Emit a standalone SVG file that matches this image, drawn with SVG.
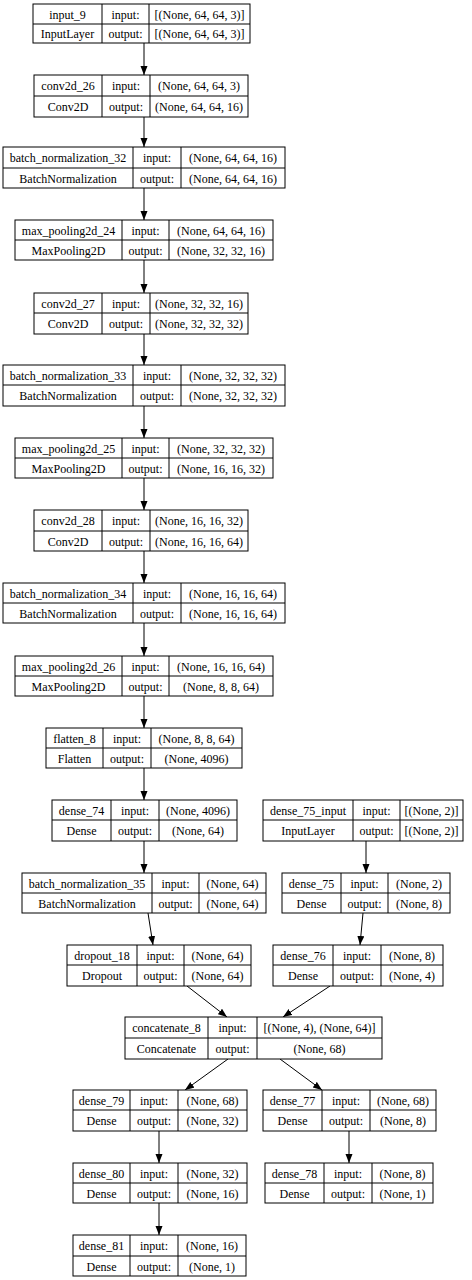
<svg xmlns="http://www.w3.org/2000/svg" width="472" height="1280" viewBox="0 0 472 1280">
<style>
.node rect{fill:#fff;stroke:#000;stroke-width:1}
.node line{stroke:#000;stroke-width:1}
text{font-family:"Liberation Serif","Times New Roman",serif;font-size:12px;text-anchor:middle;fill:#000}
.edges line{stroke:#000;stroke-width:1;marker-end:url(#ah)}
</style>
<defs>
<marker id="ah" markerUnits="userSpaceOnUse" markerWidth="10" markerHeight="8" refX="9" refY="3.5" orient="auto">
<path d="M0,0 L9,3.5 L0,7 Z" fill="#000"/>
</marker>
</defs>
<rect x="0" y="0" width="472" height="1280" fill="#fff"/>
<g id="edges" class="edges">
<line x1="144" y1="43" x2="144" y2="75"/>
<line x1="144" y1="117" x2="144" y2="147"/>
<line x1="144" y1="188" x2="144" y2="220"/>
<line x1="144" y1="260" x2="144" y2="293"/>
<line x1="144" y1="334" x2="144" y2="365"/>
<line x1="144" y1="406" x2="144" y2="438"/>
<line x1="144" y1="478" x2="144" y2="510"/>
<line x1="144" y1="551" x2="144" y2="583"/>
<line x1="144" y1="623" x2="144" y2="656"/>
<line x1="144" y1="696" x2="144" y2="728"/>
<line x1="144" y1="768" x2="144" y2="800"/>
<line x1="144" y1="841" x2="144" y2="873"/>
<line x1="148" y1="913" x2="153" y2="945"/>
<line x1="366" y1="841" x2="366" y2="873"/>
<line x1="363" y1="913" x2="360" y2="945"/>
<line x1="187" y1="986" x2="227" y2="1017"/>
<line x1="330" y1="986" x2="283" y2="1017"/>
<line x1="228" y1="1059" x2="185" y2="1090"/>
<line x1="280" y1="1059" x2="322" y2="1090"/>
<line x1="159" y1="1131" x2="159" y2="1163"/>
<line x1="349" y1="1131" x2="349" y2="1163"/>
<line x1="159" y1="1203" x2="159" y2="1235"/>
</g>
<g id="input_9" class="node"><rect x="33" y="4" width="217" height="39"/><line x1="33" y1="24" x2="250" y2="24"/><line x1="102" y1="4" x2="102" y2="43"/><line x1="149" y1="4" x2="149" y2="43"/>
<text x="67.5" y="18.5">input_9</text><text x="125.5" y="18.5">input:</text><text x="199.5" y="18.5">[(None, 64, 64, 3)]</text>
<text x="67.5" y="38">InputLayer</text><text x="125.5" y="38">output:</text><text x="199.5" y="38">[(None, 64, 64, 3)]</text></g>
<g id="conv2d_26" class="node"><rect x="34" y="75" width="214" height="42"/><line x1="34" y1="96" x2="248" y2="96"/><line x1="102" y1="75" x2="102" y2="117"/><line x1="150" y1="75" x2="150" y2="117"/>
<text x="68" y="90">conv2d_26</text><text x="126" y="90">input:</text><text x="199" y="90">(None, 64, 64, 3)</text>
<text x="68" y="111">Conv2D</text><text x="126" y="111">output:</text><text x="199" y="111">(None, 64, 64, 16)</text></g>
<g id="batch_normalization_32" class="node"><rect x="3" y="147" width="282" height="41"/><line x1="3" y1="168" x2="285" y2="168"/><line x1="133" y1="147" x2="133" y2="188"/><line x1="181" y1="147" x2="181" y2="188"/>
<text x="68" y="162">batch_normalization_32</text><text x="157" y="162">input:</text><text x="233" y="162">(None, 64, 64, 16)</text>
<text x="68" y="182.5">BatchNormalization</text><text x="157" y="182.5">output:</text><text x="233" y="182.5">(None, 64, 64, 16)</text></g>
<g id="max_pooling2d_24" class="node"><rect x="15" y="220" width="258" height="40"/><line x1="15" y1="240" x2="273" y2="240"/><line x1="122" y1="220" x2="122" y2="260"/><line x1="169" y1="220" x2="169" y2="260"/>
<text x="68.5" y="234.5">max_pooling2d_24</text><text x="145.5" y="234.5">input:</text><text x="221" y="234.5">(None, 64, 64, 16)</text>
<text x="68.5" y="254.5">MaxPooling2D</text><text x="145.5" y="254.5">output:</text><text x="221" y="254.5">(None, 32, 32, 16)</text></g>
<g id="conv2d_27" class="node"><rect x="34" y="293" width="214" height="41"/><line x1="34" y1="313" x2="248" y2="313"/><line x1="102" y1="293" x2="102" y2="334"/><line x1="150" y1="293" x2="150" y2="334"/>
<text x="68" y="307.5">conv2d_27</text><text x="126" y="307.5">input:</text><text x="199" y="307.5">(None, 32, 32, 16)</text>
<text x="68" y="328">Conv2D</text><text x="126" y="328">output:</text><text x="199" y="328">(None, 32, 32, 32)</text></g>
<g id="batch_normalization_33" class="node"><rect x="3" y="365" width="282" height="41"/><line x1="3" y1="385" x2="285" y2="385"/><line x1="133" y1="365" x2="133" y2="406"/><line x1="181" y1="365" x2="181" y2="406"/>
<text x="68" y="379.5">batch_normalization_33</text><text x="157" y="379.5">input:</text><text x="233" y="379.5">(None, 32, 32, 32)</text>
<text x="68" y="400">BatchNormalization</text><text x="157" y="400">output:</text><text x="233" y="400">(None, 32, 32, 32)</text></g>
<g id="max_pooling2d_25" class="node"><rect x="15" y="438" width="258" height="40"/><line x1="15" y1="458" x2="273" y2="458"/><line x1="122" y1="438" x2="122" y2="478"/><line x1="169" y1="438" x2="169" y2="478"/>
<text x="68.5" y="452.5">max_pooling2d_25</text><text x="145.5" y="452.5">input:</text><text x="221" y="452.5">(None, 32, 32, 32)</text>
<text x="68.5" y="472.5">MaxPooling2D</text><text x="145.5" y="472.5">output:</text><text x="221" y="472.5">(None, 16, 16, 32)</text></g>
<g id="conv2d_28" class="node"><rect x="34" y="510" width="214" height="41"/><line x1="34" y1="531" x2="248" y2="531"/><line x1="102" y1="510" x2="102" y2="551"/><line x1="150" y1="510" x2="150" y2="551"/>
<text x="68" y="525">conv2d_28</text><text x="126" y="525">input:</text><text x="199" y="525">(None, 16, 16, 32)</text>
<text x="68" y="545.5">Conv2D</text><text x="126" y="545.5">output:</text><text x="199" y="545.5">(None, 16, 16, 64)</text></g>
<g id="batch_normalization_34" class="node"><rect x="3" y="583" width="282" height="40"/><line x1="3" y1="603" x2="285" y2="603"/><line x1="133" y1="583" x2="133" y2="623"/><line x1="181" y1="583" x2="181" y2="623"/>
<text x="68" y="597.5">batch_normalization_34</text><text x="157" y="597.5">input:</text><text x="233" y="597.5">(None, 16, 16, 64)</text>
<text x="68" y="617.5">BatchNormalization</text><text x="157" y="617.5">output:</text><text x="233" y="617.5">(None, 16, 16, 64)</text></g>
<g id="max_pooling2d_26" class="node"><rect x="15" y="656" width="258" height="40"/><line x1="15" y1="676" x2="273" y2="676"/><line x1="122" y1="656" x2="122" y2="696"/><line x1="169" y1="656" x2="169" y2="696"/>
<text x="68.5" y="670.5">max_pooling2d_26</text><text x="145.5" y="670.5">input:</text><text x="221" y="670.5">(None, 16, 16, 64)</text>
<text x="68.5" y="690.5">MaxPooling2D</text><text x="145.5" y="690.5">output:</text><text x="221" y="690.5">(None, 8, 8, 64)</text></g>
<g id="flatten_8" class="node"><rect x="46" y="728" width="196" height="40"/><line x1="46" y1="748" x2="242" y2="748"/><line x1="103" y1="728" x2="103" y2="768"/><line x1="151" y1="728" x2="151" y2="768"/>
<text x="74.5" y="742.5">flatten_8</text><text x="127" y="742.5">input:</text><text x="196.5" y="742.5">(None, 8, 8, 64)</text>
<text x="74.5" y="762.5">Flatten</text><text x="127" y="762.5">output:</text><text x="196.5" y="762.5">(None, 4096)</text></g>
<g id="dense_74" class="node"><rect x="52" y="800" width="185" height="41"/><line x1="52" y1="820" x2="237" y2="820"/><line x1="111" y1="800" x2="111" y2="841"/><line x1="159" y1="800" x2="159" y2="841"/>
<text x="81.5" y="814.5">dense_74</text><text x="135" y="814.5">input:</text><text x="198" y="814.5">(None, 4096)</text>
<text x="81.5" y="835">Dense</text><text x="135" y="835">output:</text><text x="198" y="835">(None, 64)</text></g>
<g id="dense_75_input" class="node"><rect x="263" y="800" width="200" height="41"/><line x1="263" y1="820" x2="463" y2="820"/><line x1="353" y1="800" x2="353" y2="841"/><line x1="400" y1="800" x2="400" y2="841"/>
<text x="308" y="814.5">dense_75_input</text><text x="376.5" y="814.5">input:</text><text x="431.5" y="814.5">[(None, 2)]</text>
<text x="308" y="835">InputLayer</text><text x="376.5" y="835">output:</text><text x="431.5" y="835">[(None, 2)]</text></g>
<g id="batch_normalization_35" class="node"><rect x="22" y="873" width="244" height="40"/><line x1="22" y1="893" x2="266" y2="893"/><line x1="152" y1="873" x2="152" y2="913"/><line x1="199" y1="873" x2="199" y2="913"/>
<text x="87" y="887.5">batch_normalization_35</text><text x="175.5" y="887.5">input:</text><text x="232.5" y="887.5">(None, 64)</text>
<text x="87" y="907.5">BatchNormalization</text><text x="175.5" y="907.5">output:</text><text x="232.5" y="907.5">(None, 64)</text></g>
<g id="dense_75" class="node"><rect x="282" y="873" width="168" height="40"/><line x1="282" y1="893" x2="450" y2="893"/><line x1="341" y1="873" x2="341" y2="913"/><line x1="388" y1="873" x2="388" y2="913"/>
<text x="311.5" y="887.5">dense_75</text><text x="364.5" y="887.5">input:</text><text x="419" y="887.5">(None, 2)</text>
<text x="311.5" y="907.5">Dense</text><text x="364.5" y="907.5">output:</text><text x="419" y="907.5">(None, 8)</text></g>
<g id="dropout_18" class="node"><rect x="67" y="945" width="184" height="41"/><line x1="67" y1="965" x2="251" y2="965"/><line x1="137" y1="945" x2="137" y2="986"/><line x1="184" y1="945" x2="184" y2="986"/>
<text x="102" y="959.5">dropout_18</text><text x="160.5" y="959.5">input:</text><text x="217.5" y="959.5">(None, 64)</text>
<text x="102" y="980">Dropout</text><text x="160.5" y="980">output:</text><text x="217.5" y="980">(None, 64)</text></g>
<g id="dense_76" class="node"><rect x="273" y="945" width="170" height="41"/><line x1="273" y1="965" x2="443" y2="965"/><line x1="333" y1="945" x2="333" y2="986"/><line x1="381" y1="945" x2="381" y2="986"/>
<text x="303" y="959.5">dense_76</text><text x="357" y="959.5">input:</text><text x="412" y="959.5">(None, 8)</text>
<text x="303" y="980">Dense</text><text x="357" y="980">output:</text><text x="412" y="980">(None, 4)</text></g>
<g id="concatenate_8" class="node"><rect x="125" y="1017" width="257" height="42"/><line x1="125" y1="1038" x2="382" y2="1038"/><line x1="208" y1="1017" x2="208" y2="1059"/><line x1="257" y1="1017" x2="257" y2="1059"/>
<text x="166.5" y="1032">concatenate_8</text><text x="232.5" y="1032">input:</text><text x="319.5" y="1032">[(None, 4), (None, 64)]</text>
<text x="166.5" y="1053">Concatenate</text><text x="232.5" y="1053">output:</text><text x="319.5" y="1053">(None, 68)</text></g>
<g id="dense_79" class="node"><rect x="73" y="1090" width="174" height="41"/><line x1="73" y1="1110" x2="247" y2="1110"/><line x1="130" y1="1090" x2="130" y2="1131"/><line x1="178" y1="1090" x2="178" y2="1131"/>
<text x="101.5" y="1104.5">dense_79</text><text x="154" y="1104.5">input:</text><text x="212.5" y="1104.5">(None, 68)</text>
<text x="101.5" y="1125">Dense</text><text x="154" y="1125">output:</text><text x="212.5" y="1125">(None, 32)</text></g>
<g id="dense_77" class="node"><rect x="263" y="1090" width="173" height="41"/><line x1="263" y1="1110" x2="436" y2="1110"/><line x1="322" y1="1090" x2="322" y2="1131"/><line x1="370" y1="1090" x2="370" y2="1131"/>
<text x="292.5" y="1104.5">dense_77</text><text x="346" y="1104.5">input:</text><text x="403" y="1104.5">(None, 68)</text>
<text x="292.5" y="1125">Dense</text><text x="346" y="1125">output:</text><text x="403" y="1125">(None, 8)</text></g>
<g id="dense_80" class="node"><rect x="73" y="1163" width="174" height="40"/><line x1="73" y1="1183" x2="247" y2="1183"/><line x1="130" y1="1163" x2="130" y2="1203"/><line x1="178" y1="1163" x2="178" y2="1203"/>
<text x="101.5" y="1177.5">dense_80</text><text x="154" y="1177.5">input:</text><text x="212.5" y="1177.5">(None, 32)</text>
<text x="101.5" y="1197.5">Dense</text><text x="154" y="1197.5">output:</text><text x="212.5" y="1197.5">(None, 16)</text></g>
<g id="dense_78" class="node"><rect x="265" y="1163" width="168" height="40"/><line x1="265" y1="1183" x2="433" y2="1183"/><line x1="324" y1="1163" x2="324" y2="1203"/><line x1="372" y1="1163" x2="372" y2="1203"/>
<text x="294.5" y="1177.5">dense_78</text><text x="348" y="1177.5">input:</text><text x="402.5" y="1177.5">(None, 8)</text>
<text x="294.5" y="1197.5">Dense</text><text x="348" y="1197.5">output:</text><text x="402.5" y="1197.5">(None, 1)</text></g>
<g id="dense_81" class="node"><rect x="73" y="1235" width="173" height="41"/><line x1="73" y1="1256" x2="246" y2="1256"/><line x1="130" y1="1235" x2="130" y2="1276"/><line x1="178" y1="1235" x2="178" y2="1276"/>
<text x="101.5" y="1250">dense_81</text><text x="154" y="1250">input:</text><text x="212" y="1250">(None, 16)</text>
<text x="101.5" y="1270.5">Dense</text><text x="154" y="1270.5">output:</text><text x="212" y="1270.5">(None, 1)</text></g>
</svg>
